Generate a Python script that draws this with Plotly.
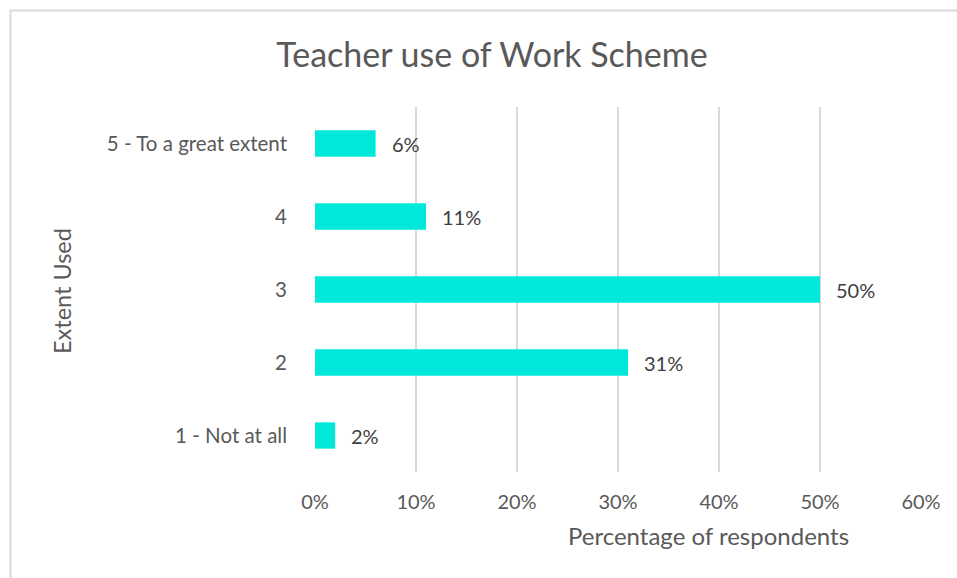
import plotly.graph_objects as go

categories = ["1 - Not at all", "2", "3", "4", "5 - To a great extent"]
values = [0.02, 0.31, 0.50, 0.11, 0.06]
labels = ["2%", "31%", "50%", "11%", "6%"]
x_ticks = [0, 0.1, 0.2, 0.3, 0.4, 0.5, 0.6]
x_tick_text = ["0%", "10%", "20%", "30%", "40%", "50%", "60%"]

W, H = 957, 578
L, R, T, B = 315, 36, 107, 106
pw, ph = W - L - R, H - T - B

def px_x(p):
    return (p - L) / pw

def px_y(p):
    return (H - B - p) / ph

FONT = "Lato, 'Open Sans', sans-serif"

fig = go.Figure(go.Bar(
    x=values, y=categories, orientation="h",
    marker=dict(color="#00E8DA", line=dict(width=0)),
    width=0.36,
))

# category axis: annotation y given as category index to avoid numeric parsing
data_labels = [dict(x=v, y=categories.index(c), text=t, xref="x", yref="y",
                    xanchor="left", yanchor="middle", xshift=14, showarrow=False,
                    font=dict(size=20, color="#404040", family=FONT))
               for v, c, t in zip(values, categories, labels)]

fig.update_layout(
    width=W, height=H,
    margin=dict(l=L, r=R, t=T, b=B),
    plot_bgcolor="white", paper_bgcolor="white",
    showlegend=False,
    title=dict(text="Teacher use of Work Scheme", x=492 / W, xanchor="center",
               y=1 - 55 / H, yanchor="middle", xref="container", yref="container",
               font=dict(size=34, color="#595959", family=FONT)),
    font=dict(family=FONT, color="#595959"),
    xaxis=dict(range=[0, 0.6], tickvals=x_ticks, ticktext=x_tick_text,
               showgrid=True, gridcolor="#D9D9D9", gridwidth=2, zeroline=False,
               showline=False, ticks="", ticklabelstandoff=16,
               tickfont=dict(size=20, color="#595959")),
    yaxis=dict(type="category", categoryorder="array", categoryarray=categories,
               range=[-0.5, 4.5], showgrid=False, zeroline=False,
               showline=False, ticks="", ticklabelstandoff=27,
               tickfont=dict(size=20.5, color="#595959")),
    shapes=[dict(type="rect", xref="paper", yref="paper",
                 x0=px_x(10.5), x1=px_x(1000), y0=px_y(10.5), y1=px_y(620),
                 line=dict(color="#D9D9D9", width=2), fillcolor="rgba(0,0,0,0)",
                 layer="below")],
    annotations=data_labels + [
        dict(text="Percentage of respondents", xref="paper", yref="paper",
             x=px_x(708), y=px_y(535), xanchor="center", yanchor="middle",
             showarrow=False, font=dict(size=24, color="#595959", family=FONT)),
        dict(text="Extent Used", xref="paper", yref="paper",
             x=px_x(62), y=px_y(291), xanchor="center", yanchor="middle",
             textangle=-90, showarrow=False,
             font=dict(size=23.5, color="#595959", family=FONT)),
    ],
)

fig.write_html("out.html")
